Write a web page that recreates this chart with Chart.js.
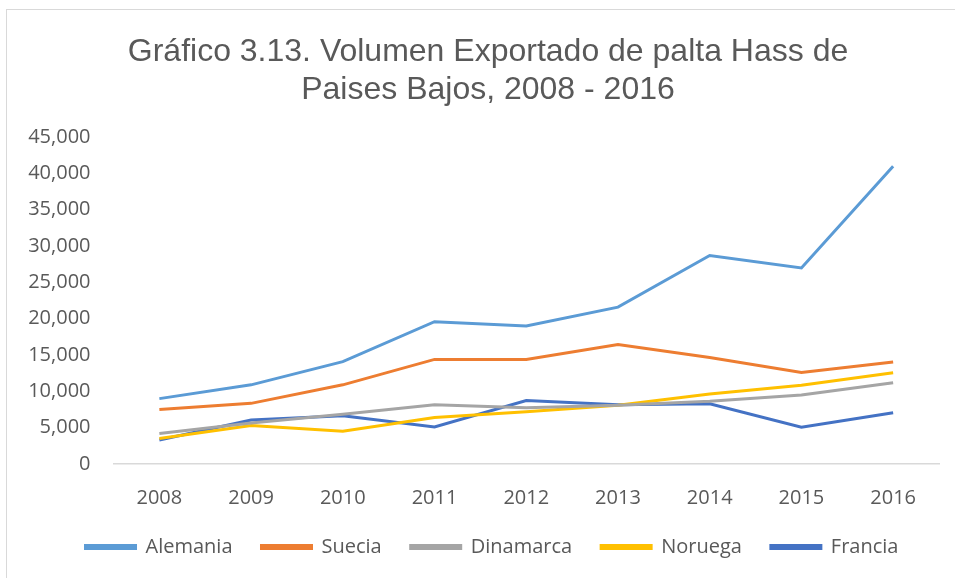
<!DOCTYPE html>
<html>
<head>
<meta charset="utf-8">
<script src="https://cdn.jsdelivr.net/npm/chart.js@4"></script>
<style>
    body { margin: 0; overflow: hidden; background: #fff; }
    #wrap { position: absolute; left: 6px; top: 9px; width: 962px; height: 580px; border: 1px solid #d9d9d9; }
</style>
</head>
<body>
<div id="wrap"><canvas id="exportChart" width="962" height="580"></canvas></div>
<script>
const years = ["2008", "2009", "2010", "2011", "2012", "2013", "2014", "2015", "2016"];
const alemania = [9000, 10900, 14100, 19600, 19000, 21600, 28700, 27000, 41000];
const suecia = [7500, 8350, 10900, 14400, 14400, 16450, 14650, 12600, 14050];
const dinamarca = [4200, 5650, 6850, 8150, 7750, 8100, 8650, 9500, 11200];
const noruega = [3500, 5300, 4500, 6400, 7200, 8100, 9650, 10850, 12550];
const francia = [3300, 6050, 6650, 5100, 8750, 8150, 8300, 5050, 7050];
const yTicks = [0, 45000, 5000]; // min, max, step

const comma = (x) => {
    return x.toString().replace(/\B(?=(\d{3})+(?!\d))/g, ",");
};

const line = (label, data, color) => {
    return {
        label: label,
        data: data,
        borderColor: color,
        backgroundColor: color,
        borderWidth: 3,
        pointRadius: 0,
        tension: 0,
    };
};

const tickFont = { family: "'Open Sans'", size: 20 };

// title and legend are centred on the whole chart box, not on the left part
const centerBlocks = {
    id: "centerBlocks",
    afterLayout: (chart) => {
        chart.titleBlock.left += 30;
        chart.legend.left += 38;
    },
};

var exportChart_ctx = document.getElementById("exportChart").getContext("2d");
var exportChart = new Chart(exportChart_ctx, {
    type: "line",
    data: {
        labels: years,
        datasets: [
            line("Alemania", alemania, "#5B9BD5"),
            line("Suecia", suecia, "#ED7D31"),
            line("Dinamarca", dinamarca, "#A5A5A5"),
            line("Noruega", noruega, "#FFC000"),
            line("Francia", francia, "#4472C4"),
        ],
    },
    options: {
        responsive: false,
        animation: false,
        layout: {
            padding: { left: 0, right: 30, top: 0, bottom: 23 },
        },
        plugins: {
            title: {
                display: true,
                text: ["Gráfico 3.13. Volumen Exportado de palta Hass de", "Paises Bajos, 2008 - 2016"],
                color: "#595959",
                font: { family: "'Liberation Sans'", size: 32, weight: "normal", lineHeight: 1.19 },
                padding: { top: 23, bottom: 28 },
            },
            legend: {
                position: "bottom",
                labels: {
                    color: "#595959",
                    font: tickFont,
                    boxWidth: 50,
                    boxHeight: 3,
                    padding: 29,
                },
            },
            tooltip: { enabled: false },
        },
        scales: {
            x: {
                offset: true,
                grid: { display: false, drawTicks: false, offset: true },
                border: { color: "#d9d9d9", width: 1.5 },
                ticks: { color: "#595959", font: tickFont, padding: 22 },
                afterFit: (scale) => {
                    scale.height = 44;
                },
            },
            y: {
                min: yTicks[0],
                max: yTicks[1],
                grid: { display: false, drawTicks: false },
                border: { display: false },
                ticks: {
                    stepSize: yTicks[2],
                    color: "#595959",
                    font: tickFont,
                    padding: 23,
                    callback: (v) => comma(v),
                },
                afterFit: (scale) => {
                    scale.width = 106.5;
                },
            },
        },
    },
    plugins: [centerBlocks],
});
</script>
</body>
</html>
